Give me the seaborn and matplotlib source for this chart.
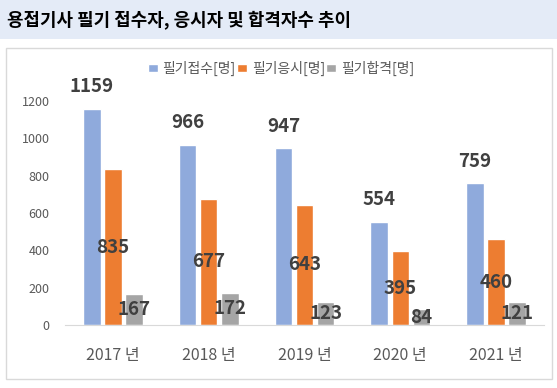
import pandas as pd
import matplotlib.pyplot as plt
import seaborn as sns
from matplotlib.patches import Rectangle

years = ['2017 년', '2018 년', '2019 년', '2020 년', '2021 년']
series = ['필기접수[명]', '필기응시[명]', '필기합격[명]']
applied = [1159, 966, 947, 554, 759]
tested = [835, 677, 643, 395, 460]
passed = [167, 172, 123, 84, 121]
colors = ['#8FAADC', '#ED7D31', '#A5A5A5']


def create_chart():
    sns.set_style('white')
    plt.rcParams['font.family'] = ['Noto Sans CJK KR', 'DejaVu Sans']

    df = pd.DataFrame({
        'year': years * 3,
        'series': [series[0]] * 5 + [series[1]] * 5 + [series[2]] * 5,
        'value': applied + tested + passed,
    })

    W, H = 557, 388
    fig = plt.figure(figsize=(W / 100, H / 100), dpi=100)

    # title band and chart frame
    fig.patches.append(Rectangle((0, 1 - 39 / H), 1, 39 / H, transform=fig.transFigure,
                                 facecolor='#E4EBF7', edgecolor='none', zorder=0))
    fig.patches.append(Rectangle((6 / W, 1 - 379 / H), 546 / W, 331 / H, transform=fig.transFigure,
                                 facecolor='none', edgecolor='#D9D9D9', linewidth=1, zorder=0))
    fig.text(7 / W, 1 - 20 / H, '용접기사 필기 접수자, 응시자 및 합격자수 추이', fontsize=12.9,
             fontweight='bold', color='black', ha='left', va='center')

    ax = fig.add_axes([65 / W, 63 / H, 479 / W, 224 / H])
    ax.patch.set_alpha(0)
    sns.barplot(data=df, x='year', y='value', hue='series', palette=colors, saturation=1,
                width=0.66, gap=0.17, errorbar=None, ax=ax)

    ax.set_ylim(0, 1200)
    ax.set_yticks(range(0, 1201, 200))
    ax.set_xlabel('')
    ax.set_ylabel('')
    for s in ['top', 'right', 'left']:
        ax.spines[s].set_visible(False)
    ax.spines['bottom'].set_color('#D9D9D9')
    ax.tick_params(axis='y', length=0, pad=11, labelsize=9, labelcolor='#595959')
    ax.tick_params(axis='x', length=0, pad=16, labelsize=11.5, labelcolor='#595959')

    # data labels
    for i, cont in enumerate(ax.containers):
        for bar in cont:
            h = bar.get_height()
            xc = bar.get_x() + bar.get_width() / 2
            y = h + 118 if i == 0 else h / 2
            ax.text(xc, y, f'{int(h)}', ha='center', va='center', fontsize=13.5,
                    fontweight='bold', color='#404040', clip_on=False)

    handles, labels = ax.get_legend_handles_labels()
    ax.get_legend().remove()
    fig.legend(handles, labels, loc='center', bbox_to_anchor=(281 / W, 1 - 68 / H), ncol=3,
               frameon=False, fontsize=10, labelcolor='#595959', handlelength=0.7,
               handleheight=0.5, handletextpad=0.35, columnspacing=0.1)

    plt.savefig('out.png', dpi=100)


if __name__ == "__main__":
    create_chart()
